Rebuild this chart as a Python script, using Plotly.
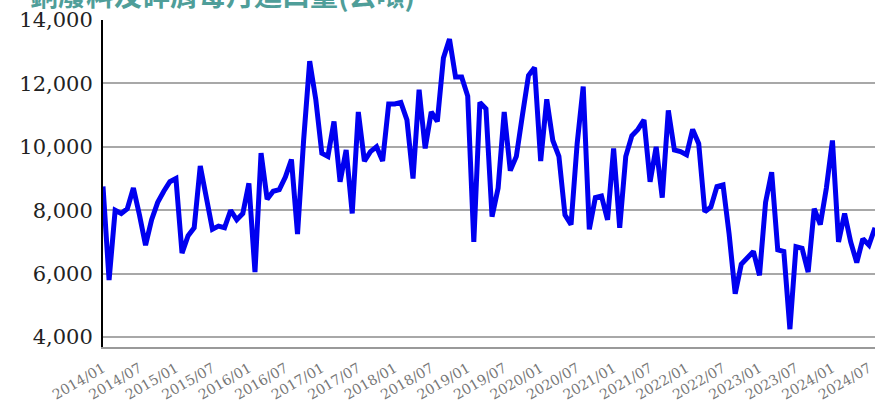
import plotly.graph_objects as go

months = [f"{y}/{m:02d}" for y in range(2014, 2025) for m in range(1, 13)][:128]

imports = [
    8750, 5800, 8000, 7900, 8050, 8700, 7850, 6900, 7700, 8250, 8600, 8900,
    9000, 6650, 7200, 7450, 9400, 8450, 7400, 7500, 7450, 8000, 7700, 7900,
    8850, 6050, 9800, 8350, 8600, 8650, 9050, 9600, 7250, 10200, 12700, 11500,
    9800, 9700, 10800, 8900, 9900, 7900, 11100, 9550, 9850, 10000, 9550, 11350,
    11350, 11400, 10850, 9000, 11800, 9950, 11100, 10800, 12800, 13400, 12200, 12200,
    11600, 7000, 11400, 11200, 7800, 8700, 11100, 9250, 9700, 11000, 12250, 12500,
    9550, 11500, 10200, 9700, 7850, 7550, 10100, 11900, 7400, 8400, 8450, 7700,
    9950, 7450, 9700, 10350, 10550, 10850, 8900, 10000, 8400, 11150, 9900, 9850,
    9750, 10550, 10100, 7950, 8100, 8750, 8800, 7250, 5370, 6300, 6500, 6700,
    5950, 8250, 9200, 6750, 6700, 4250, 6850, 6800, 6050, 8050, 7550, 8700,
    10200, 7000, 7900, 7000, 6350, 7100, 6900, 7450,
]

tick_labels = months[::6]
y_ticks = [4000, 6000, 8000, 10000, 12000, 14000]
title_text = "銅廢料及碎屑每月進口量(公噸)"

fig = go.Figure()
fig.add_trace(go.Scatter(
    x=months, y=imports, mode="lines",
    line=dict(color="#0000f0", width=5),
    hoverinfo="skip",
))

fig.update_layout(
    width=875, height=408,
    margin=dict(l=103, r=0, t=20, b=61),
    paper_bgcolor="white", plot_bgcolor="white",
    showlegend=False,
    annotations=[dict(
        text=title_text, xref="paper", yref="paper",
        x=-0.097, y=1.013, xanchor="left", yanchor="bottom",
        showarrow=False,
        font=dict(family="Noto Sans CJK TC", size=28, color="#4f9e99", weight="bold"),
    )],
)

fig.update_xaxes(
    type="category", range=[0, len(months) - 1],
    tickmode="array", tickvals=tick_labels, ticktext=tick_labels,
    tickangle=-30, ticks="", showgrid=False, automargin=False,
    showline=True, linecolor="#999999", linewidth=2,
    tickfont=dict(family="DejaVu Serif", size=14, color="#777777"),
    ticklabelstandoff=6,
)

fig.update_yaxes(
    range=[3688, 14000], tickvals=y_ticks, tickformat=",",
    ticks="", showgrid=True, gridcolor="#a8a8a8", gridwidth=2,
    showline=True, linecolor="#000000", linewidth=2, automargin=False,
    zeroline=False,
    tickfont=dict(family="DejaVu Serif", size=21, color="#222222"),
    ticklabelstandoff=4,
)

fig.write_html(
    "out.html",
    config={"displayModeBar": False},
    post_script="document.body.style.margin='0';document.body.style.padding='0';",
)
